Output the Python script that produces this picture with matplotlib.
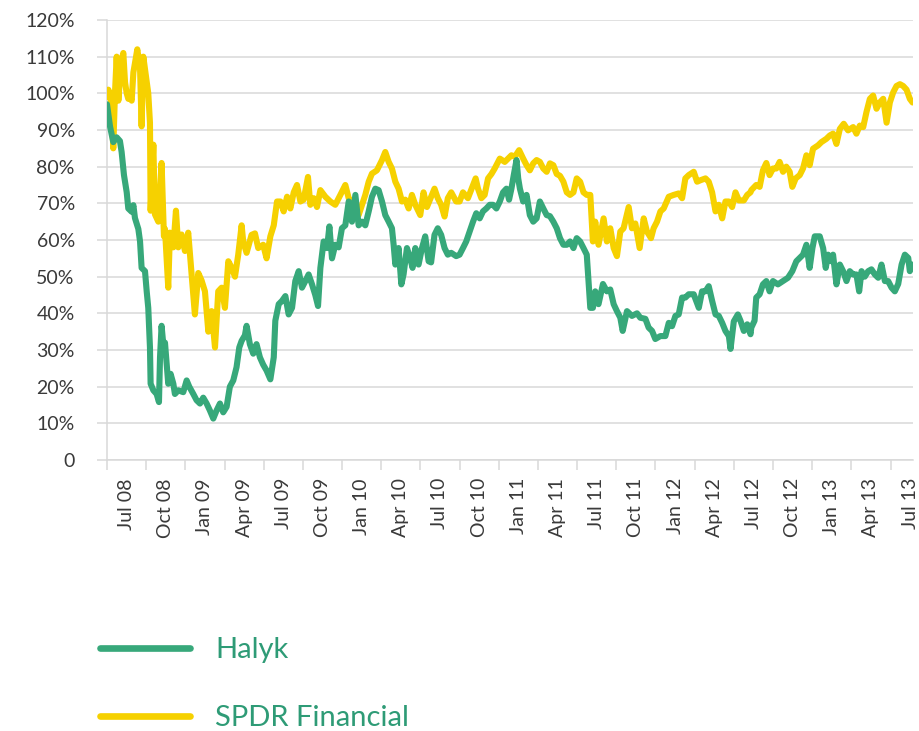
import matplotlib
matplotlib.use('Agg')
import matplotlib.pyplot as plt
from matplotlib.ticker import FixedLocator, FuncFormatter, NullFormatter

plt.rcParams['font.family'] = ['Lato', 'DejaVu Sans']

# x values: months elapsed since 1 July 2008; y values: index level in %
halyk_m = [0, 0.23, 0.48, 0.74, 0.99, 1.12, 1.30, 1.51, 1.63, 1.89, 2.02, 2.14, 2.40, 2.53, 2.65, 2.91,
           3.04, 3.16, 3.29, 3.34, 3.55, 3.80, 3.98, 4.06, 4.18, 4.31, 4.44, 4.57, 4.69, 4.87, 5.08, 5.20,
           5.46, 5.84, 6.10, 6.30, 6.61, 6.86, 7.12, 7.37, 7.63, 7.88, 8.14, 8.39, 8.65, 8.90, 9.16, 9.41,
           9.67, 9.92, 10.13, 10.31, 10.56, 10.69, 10.94, 11.20, 11.45, 11.71, 11.96, 12.22,
           12.51, 12.77, 12.89, 13.15, 13.40, 13.66, 13.91, 14.17, 14.42, 14.68, 14.93, 15.19, 15.44, 15.70,
           15.95, 16.16, 16.34, 16.59, 16.85, 17.03, 17.23, 17.48, 17.74, 17.99, 18.25, 18.51, 18.76, 19.02,
           19.27, 19.53, 19.78, 20.04, 20.29, 20.55, 20.80, 21.06, 21.31, 21.57, 21.82, 21.95, 22.08, 22.33,
           22.54, 22.71, 22.97, 23.22, 23.40, 23.61, 23.86, 24.12, 24.37, 24.63,
           24.82, 25.08, 25.33, 25.59, 25.85, 26.10, 26.36, 26.74, 27.0, 27.26, 27.51, 27.77, 28.03, 28.28,
           28.54, 28.79, 29.05, 29.31, 29.56, 29.82, 30.08, 30.33, 30.59, 30.79, 30.97, 31.15, 31.36, 31.49,
           31.62, 31.87, 32.13, 32.38, 32.64, 32.90, 33.15, 33.41, 33.67, 33.92, 34.18, 34.44, 34.69, 34.95,
           35.21, 35.46, 35.72, 35.97, 36.23, 36.49, 36.74,
           37.01, 37.21, 37.39, 37.64, 37.98, 38.28, 38.54, 38.80, 39.05, 39.31, 39.49, 39.82, 40.20, 40.59,
           40.84, 41.23, 41.48, 41.74, 41.99, 42.38, 42.76, 43.02, 43.27, 43.53, 43.78, 44.04, 44.29, 44.55,
           44.93, 45.32, 45.57, 45.83, 46.08, 46.34, 46.60, 46.85, 47.11, 47.36, 47.62, 47.75, 48.0, 48.31,
           48.51, 48.77, 49.03, 49.28,
           49.34, 49.59, 49.72, 49.98, 50.23, 50.49, 50.74, 51.0, 51.38, 51.77, 52.15, 52.48, 52.79, 53.05,
           53.30, 53.56, 53.81, 54.02, 54.20, 54.58, 54.84, 55.04, 55.22, 55.48, 55.60, 55.86, 56.12, 56.37,
           56.63, 56.88, 57.14, 57.39, 57.60, 57.78, 58.03, 58.29, 58.54, 58.80, 59.06, 59.31, 59.57, 59.82,
           60.08, 60.33, 60.59, 60.85, 61.10, 61.36, 61.48, 61.69]
halyk_v = [97, 91, 86.7, 88, 87, 84, 77.7, 73, 68.6, 67.7, 69.5, 66, 63, 59.6, 52.4, 51.5,
           46, 41.5, 30.7, 20.8, 19, 18, 15.8, 28, 36.6, 31.6, 32, 26, 20.8, 23.5, 20.8, 18,
           19, 18.5, 21.7, 20, 18, 16.3, 15.4, 17, 15.4, 13.5, 11.3, 13.5, 15.4, 13, 14.5, 20,
           21.7, 25.3, 30.7, 32.5, 34, 36.6, 31.6, 29, 31.6, 28, 26, 24.4,
           22, 28, 38, 42.5, 43.4, 44.7, 39.7, 41.5, 48.8, 51.5, 47, 48.8, 50.6, 47.9,
           45, 42, 52.4, 59.6, 57.8, 63.7, 55, 58.7, 58, 63.2, 64, 70.5, 65, 72.3,
           64, 65, 64, 67.8, 71.8, 74, 73.6, 70.5, 66.8, 65, 63.2, 58.7, 53.3, 57.8,
           47.9, 50.6, 57.8, 55, 52.4, 57.8, 53.3, 57.8, 61, 54.2,
           53.9, 61.4, 63.2, 61.4, 57.8, 56, 56.5, 55.6, 56, 57.8, 59.6, 62.3, 65, 67.3,
           65.9, 67.8, 68.6, 69.6, 69.6, 68.6, 70.5, 73, 74, 71, 74, 77.7, 81.8, 76.8,
           74, 70.5, 72.3, 66.8, 65, 65.9, 70.5, 68.6, 66.8, 66.5, 65, 63.2, 60.5, 58.7,
           58.7, 59.6, 57.8, 60.5, 59.6, 57.8, 56,
           41.5, 41.5, 46, 42.5, 48, 46, 46.5, 42.5, 40.6, 38.8, 35.2, 40.6, 39.3, 40,
           38.8, 38.5, 36.1, 35.2, 33, 33.8, 33.8, 37.4, 36.5, 39.3, 39.7, 44.3, 44.3, 45.2,
           45.2, 41.5, 46, 46, 47.4, 43.4, 39.7, 39.3, 37.4, 35.2, 33.8, 30.3, 37.8, 39.7,
           38, 35.2, 37, 34.3,
           36.1, 38, 44.3, 45.2, 47.9, 48.8, 46, 48.8, 47.9, 48.8, 49.7, 51.5, 54.2, 55.1,
           56, 58.7, 52.4, 57.8, 61, 61, 57.8, 52.4, 56, 54.2, 56, 47.9, 53.3, 51.5,
           48.8, 51.5, 50.6, 50.6, 46, 51.5, 50, 51.5, 52, 50.6, 49.7, 53.3, 48.8, 48.8,
           47, 46, 48, 53.3, 56, 55.1, 51.5, 53.3]

spdr_m = [0, 0.10, 0.23, 0.36, 0.48, 0.61, 0.74, 0.87, 0.99, 1.12, 1.25, 1.38, 1.51, 1.63, 1.76, 1.89,
          2.02, 2.32, 2.53, 2.65, 2.78, 3.04, 3.16, 3.29, 3.34, 3.55, 3.67, 3.93, 4.18, 4.36, 4.44, 4.69,
          4.82, 5.08, 5.28, 5.46, 5.71, 5.97, 6.22, 6.48, 6.73, 6.99, 7.24, 7.50, 7.76, 8.01, 8.27, 8.52,
          8.78, 9.03, 9.29, 9.54, 9.80, 10.05, 10.31, 10.43, 10.69, 11.07, 11.33, 11.58, 11.96, 12.22,
          12.51, 12.77, 13.02, 13.28, 13.53, 13.79, 14.04, 14.30, 14.55, 14.81, 15.06, 15.39, 15.57, 15.83,
          16.08, 16.34, 16.72, 17.10, 17.48, 17.87, 18.25, 18.51, 18.76, 19.02, 19.27, 19.53, 19.78, 20.04,
          20.29, 20.67, 21.06, 21.31, 21.57, 21.82, 22.08, 22.33, 22.59, 22.84, 23.10, 23.35, 23.61, 23.99,
          24.24, 24.50,
          25.08, 25.33, 25.59, 25.85, 26.10, 26.36, 26.74, 27.0, 27.26, 27.64, 28.03, 28.23, 28.41, 28.67,
          28.92, 29.18, 29.44, 29.69, 30.08, 30.46, 30.72, 30.97, 31.23, 31.56, 31.87, 32.13, 32.38, 32.64,
          32.90, 33.15, 33.41, 33.67, 33.92, 34.18, 34.44, 34.69, 34.95, 35.21, 35.46, 35.72, 35.97, 36.23,
          36.49, 36.74,
          37.01, 37.21, 37.39, 37.64, 38.03, 38.28, 38.54, 38.80, 39.05, 39.31, 39.56, 39.95, 40.20, 40.46,
          40.79, 41.10, 41.35, 41.66, 41.86, 42.12, 42.38, 42.63, 43.02, 43.40, 43.78, 44.04, 44.29, 44.55,
          44.93, 45.19, 45.45, 45.83, 46.08, 46.34, 46.60, 46.85, 47.11, 47.36, 47.62, 47.87, 48.13, 48.39,
          48.77, 49.03, 49.28,
          49.34, 49.72, 49.98, 50.23, 50.49, 50.74, 51.0, 51.26, 51.51, 51.77, 52.02, 52.28, 52.48, 52.74,
          53.05, 53.30, 53.56, 53.81, 54.07, 54.45, 54.71, 55.09, 55.35, 55.60, 55.86, 56.12, 56.42, 56.75,
          57.14, 57.39, 57.65, 57.91, 58.16, 58.42, 58.67, 58.93, 59.18, 59.44, 59.70, 59.95, 60.21, 60.46,
          60.72, 60.97, 61.23, 61.48, 61.69]
spdr_v = [99, 101, 100, 96, 85, 100, 110, 98, 104, 109, 111, 103, 100, 98.5, 99, 98,
          105.7, 112, 107, 91, 110, 103, 100, 92, 68, 86, 67, 65, 81, 61, 63, 47,
          62, 58, 68, 58, 61.5, 57, 62, 50.6, 39.7, 51, 49, 46, 35, 40.6, 30.7, 46,
          47, 41.5, 54.2, 52.5, 50, 56, 64, 59.6, 56.5, 61.4, 61.8, 57.8, 58.7, 55,
          61, 64, 70.5, 70.5, 67.8, 71.8, 68.6, 73, 75, 70.5, 71, 77.2, 69.6, 71.4,
          69, 73.6, 71.8, 70.5, 69.6, 72.3, 75, 71.4, 70.5, 68.6, 66.8, 69.6, 72.3, 75.9,
          78.1, 79, 81.8, 84, 81.3, 79.5, 75.9, 74, 70.5, 71, 68.6, 72.3, 69.6, 66.8,
          73, 69,
          74, 71.4, 69.6, 66.4, 71.4, 73, 70.5, 70.5, 73, 71.4, 75, 76.8, 74, 71.4,
          72.3, 76.8, 78, 79.5, 82.2, 81.3, 82.2, 83.1, 82.7, 84.5, 82.2, 80.4, 79, 80.9,
          81.8, 81.3, 79.5, 78.6, 80.9, 80.4, 78, 77.5, 75.9, 73, 72.3, 73, 76.8, 75.9,
          73, 72.3,
          72.3, 59.6, 65, 58.7, 65.9, 59.6, 63.2, 57.8, 55.6, 62.3, 63.2, 69, 63.2, 64.5,
          57.8, 65.9, 62.3, 60.5, 63.2, 65, 67.8, 68.6, 71.8, 72.3, 72.7, 71.4, 76.8, 77.7,
          78.6, 75.9, 76.3, 76.8, 75.9, 73, 67.8, 69.6, 65.9, 70.5, 70.5, 69, 73, 70.8,
          70.8, 72.3, 73,
          73.6, 75, 74.5, 79, 81, 77.7, 79.5, 79.5, 81.3, 78.6, 80, 78.6, 74.5, 76.8,
          77.7, 79.5, 83.1, 80.4, 84.9, 85.8, 86.7, 87.6, 88.5, 89, 86.2, 90.3, 91.7, 89.9,
          90.8, 89, 91.2, 90.8, 94.9, 98.5, 99.4, 95.8, 97.5, 98.5, 92, 97.5, 100.3, 102,
          102.5, 102, 101, 98.5, 97.5]

quarter_labels = ['Jul 08', 'Oct 08', 'Jan 09', 'Apr 09', 'Jul 09', 'Oct 09', 'Jan 10', 'Apr 10',
                  'Jul 10', 'Oct 10', 'Jan 11', 'Apr 11', 'Jul 11', 'Oct 11', 'Jan 12', 'Apr 12',
                  'Jul 12', 'Oct 12', 'Jan 13', 'Apr 13', 'Jul 13']
y_ticks = list(range(0, 121, 10))
series_names = ['Halyk', 'SPDR Financial']

GREEN = '#37A87A'
YELLOW = '#F6D100'
GRID = '#D9D9D9'

fig = plt.figure(figsize=(9.19, 7.31), dpi=100)
ax = fig.add_axes([107 / 919, 1 - 460 / 731, (912.7 - 107) / 919, 440 / 731])

l_spdr, = ax.plot(spdr_m, spdr_v, color=YELLOW, lw=4.4, solid_joinstyle='round',
                  solid_capstyle='round', zorder=3, label=series_names[1])
l_halyk, = ax.plot(halyk_m, halyk_v, color=GREEN, lw=4.4, solid_joinstyle='round',
                   solid_capstyle='round', zorder=4, label=series_names[0])

ax.set_xlim(0, 61.7)
ax.set_ylim(0, 120)

ax.set_yticks(y_ticks)
ax.yaxis.set_major_formatter(FuncFormatter(lambda v, p: '0' if v == 0 else f'{int(v)}%'))
ax.tick_params(axis='y', length=7.2, width=1.1, color=GRID, pad=16, labelsize=14,
               labelcolor='#3A3A3A')

major_x = [3 * i for i in range(len(quarter_labels))]
minor_x = [3 * i + 1.5 for i in range(len(quarter_labels))]
ax.xaxis.set_major_locator(FixedLocator(major_x))
ax.xaxis.set_major_formatter(NullFormatter())
ax.xaxis.set_minor_locator(FixedLocator(minor_x))
ax.set_xticklabels(quarter_labels, minor=True, rotation=90)
ax.tick_params(axis='x', which='major', length=7.2, width=1.1, color=GRID)
ax.tick_params(axis='x', which='minor', length=0, pad=13, labelsize=14, labelcolor='#3A3A3A')

ax.yaxis.grid(True, color=GRID, lw=1.1)
ax.set_axisbelow(True)
for s in ['top', 'right']:
    ax.spines[s].set_visible(False)
for s in ['left', 'bottom']:
    ax.spines[s].set_color(GRID)
    ax.spines[s].set_linewidth(1.1)

leg = fig.legend(handles=[l_halyk, l_spdr], labels=series_names, loc='center left',
                 bbox_to_anchor=(100 / 919, 1 - 684 / 731), frameon=False, fontsize=21,
                 handlelength=3.1, handletextpad=0.85, labelspacing=1.45, borderpad=0,
                 borderaxespad=0, labelcolor='#2E9B76')
for ln in leg.get_lines():
    ln.set_linewidth(4.8)
    ln.set_solid_capstyle('round')

fig.savefig('out.png', dpi=100)
